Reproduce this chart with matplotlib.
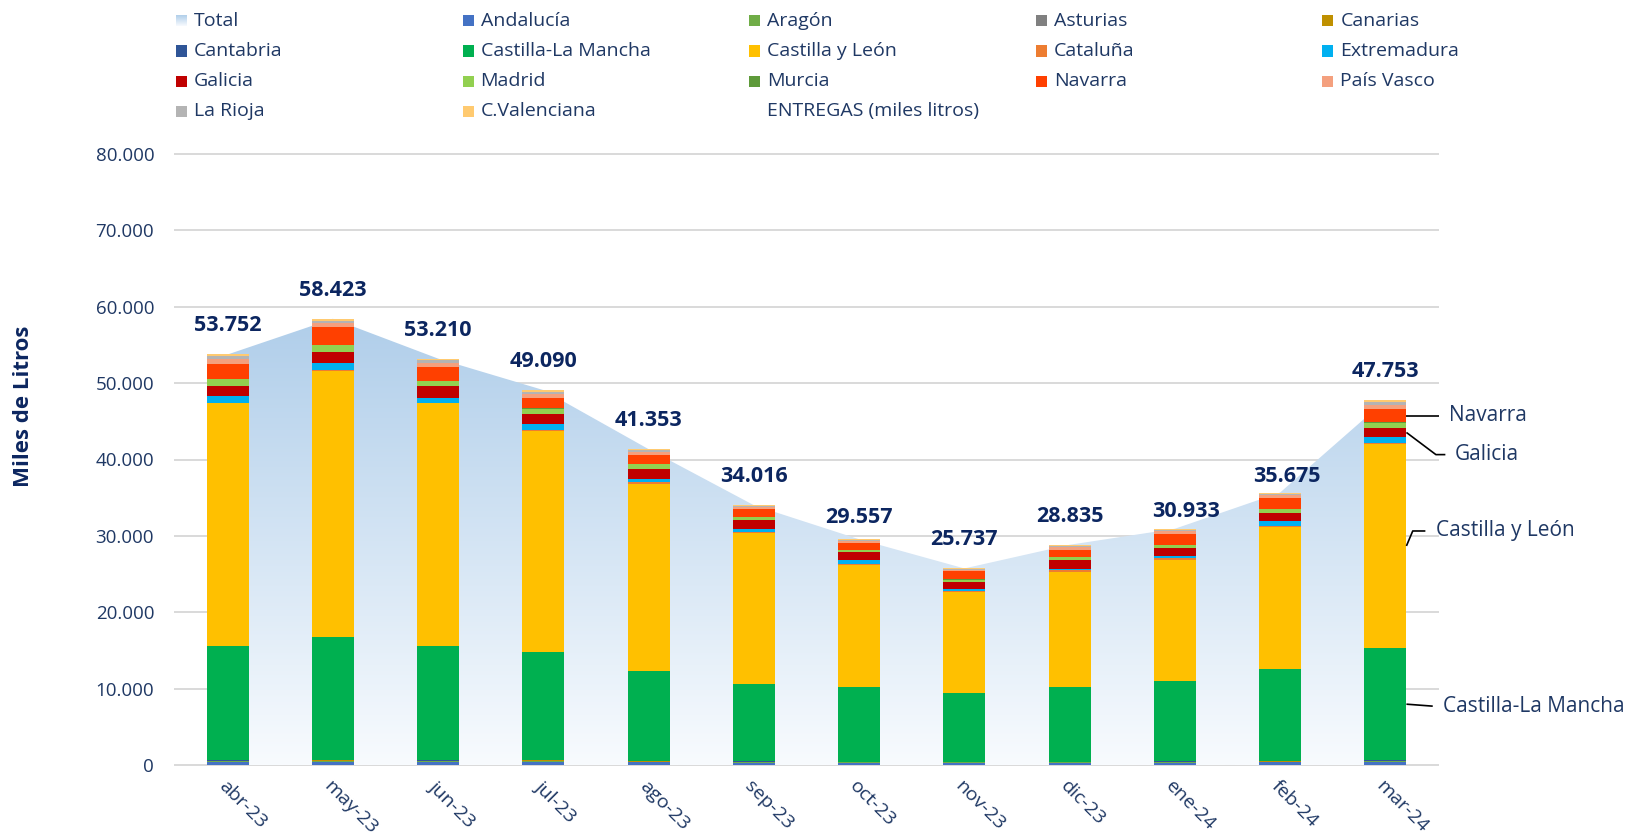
import numpy as np
import matplotlib
matplotlib.use("Agg")
import matplotlib.pyplot as plt
from matplotlib.patches import Rectangle, Polygon
from matplotlib.colors import to_rgb

plt.rcParams['font.family'] = ['Open Sans', 'DejaVu Sans']

months = ["abr-23", "may-23", "jun-23", "jul-23", "ago-23", "sep-23",
          "oct-23", "nov-23", "dic-23", "ene-24", "feb-24", "mar-24"]

total = [53752, 58423, 53210, 49090, 41353, 34016, 29557, 25737, 28835, 30933, 35675, 47753]

# deliveries per region (miles litros), stacked bottom to top
andalucia = [420, 430, 420, 400, 340, 310, 290, 270, 290, 310, 330, 400]
aragon = [90, 100, 90, 90, 80, 70, 60, 60, 60, 70, 80, 90]
asturias = [30, 30, 30, 30, 30, 30, 30, 30, 30, 30, 30, 30]
canarias = [40, 40, 40, 110, 40, 30, 30, 30, 30, 30, 30, 40]
cantabria = [60, 60, 60, 60, 50, 50, 40, 40, 40, 50, 50, 60]
castilla_la_mancha = [14950, 16150, 14950, 14060, 11770, 10180, 9800, 9020, 9800, 10560, 12030, 14690]
castilla_y_leon = [31760, 34820, 31800, 29000, 24540, 19680, 16000, 13200, 15000, 15800, 18600, 26740]
cataluna = [60, 60, 60, 150, 150, 100, 100, 150, 250, 250, 100, 100]
extremadura = [920, 960, 660, 790, 440, 500, 430, 260, 200, 200, 650, 780]
galicia = [1310, 1480, 1570, 1310, 1350, 1100, 1100, 850, 1080, 1090, 1100, 1220]
madrid = [900, 800, 600, 650, 600, 380, 220, 350, 430, 430, 470, 680]
murcia = [60, 70, 50, 90, 50, 70, 40, 50, 50, 50, 50, 60]
navarra = [1960, 2300, 1840, 1350, 1180, 1000, 960, 1050, 870, 1400, 1500, 1740]
pais_vasco = [600, 560, 520, 500, 370, 260, 230, 190, 350, 330, 330, 560]
la_rioja = [330, 320, 290, 280, 200, 140, 130, 100, 200, 190, 180, 320]
c_valenciana = [262, 243, 230, 220, 163, 116, 97, 87, 155, 143, 145, 243]

regions = ["Andalucía", "Aragón", "Asturias", "Canarias", "Cantabria",
           "Castilla-La Mancha", "Castilla y León", "Cataluña", "Extremadura",
           "Galicia", "Madrid", "Murcia", "Navarra", "País Vasco", "La Rioja",
           "C.Valenciana"]
series = [andalucia, aragon, asturias, canarias, cantabria, castilla_la_mancha,
          castilla_y_leon, cataluna, extremadura, galicia, madrid, murcia,
          navarra, pais_vasco, la_rioja, c_valenciana]
colors = ["#4472C4", "#70AD47", "#808080", "#BF9000", "#2F5597", "#00B050",
          "#FFC000", "#ED7D31", "#00B0F0", "#C00000", "#92D050", "#5E9A3A",
          "#FF4000", "#F4A07E", "#B4B4B4", "#FFCA70"]

navy = "#1F3864"
navy_bold = "#0C2660"

W, H = 1634, 835
fig = plt.figure(figsize=(W / 100, H / 100), dpi=100)
ax = fig.add_axes([175 / W, 70 / H, (1438 - 175) / W, (765 - 154) / H])

x = np.arange(len(months))

# gradient area for the total
top_c = np.array(to_rgb("#B0CEEA"))
bot_c = np.array(to_rgb("#F8FBFE"))
t = np.linspace(0, 1, 256).reshape(-1, 1, 1)
grad = top_c * (1 - t) + bot_c * t
area = Polygon([(0, 0)] + list(zip(x, total)) + [(x[-1], 0)], closed=True,
               facecolor="none", edgecolor="none")
ax.add_patch(area)
img = ax.imshow(grad, extent=(-0.5, 11.5, 0, max(total)), aspect="auto",
                origin="upper", zorder=1, interpolation="bilinear")
img.set_clip_path(area)

bottom = np.zeros(len(months))
for s, c in zip(series, colors):
    ax.bar(x, s, 0.4, bottom=bottom, color=c, zorder=3, linewidth=0)
    bottom += np.array(s)

ax.set_xlim(-0.5, 11.5)
ax.set_ylim(0, 80000)
yt = np.arange(0, 80001, 10000)
ax.set_yticks(yt)
ax.set_yticklabels([f"{v:,}".replace(",", ".") for v in yt], fontsize=13.5, color=navy)
ax.yaxis.grid(True, color="#D9D9D9", linewidth=1.4, zorder=0)
for gl in ax.get_ygridlines():
    gl.set_clip_on(False)
ax.set_axisbelow(True)
for sp in ax.spines.values():
    sp.set_visible(False)
ax.tick_params(axis="both", length=0)
ax.tick_params(axis="y", pad=15)
ax.set_xticks(x)
ax.set_xticklabels(months, fontsize=14, color=navy, rotation=-45, ha="left",
                   rotation_mode="anchor")
ax.tick_params(axis="x", pad=9)

ax.set_ylabel("Miles de Litros", fontsize=16, fontweight="bold", color=navy_bold)
ax.yaxis.set_label_coords(-0.112, 0.587)

# total labels (offsets in points)
label_dx = [0, 0, 0, 0, 0, 0, 0, 0, 0, 8, 5, 0]
label_dy = [20.5, 20.5, 20.5, 20.5, 20.5, 20.5, 16, 20.5, 20.5, 12.3, 11.8, 20.5]
for i, tv in enumerate(total):
    ax.annotate(f"{tv:,}".replace(",", "."), (i, tv), xytext=(label_dx[i], label_dy[i]),
                textcoords="offset points", ha="center", va="center",
                fontsize=15.5, fontweight="bold", color=navy_bold, zorder=5)

# callouts on the last bar
last = len(months) - 1
cum = np.cumsum([s[last] for s in series])
starts = np.concatenate([[0], cum[:-1]])


def callout(name, dy, x_elbow, x_end, x_text):
    k = regions.index(name)
    mid = (starts[k] + cum[k]) / 2
    ax.plot([last + 0.2, x_elbow, x_end], [mid, mid + dy, mid + dy],
            color="black", lw=1.2, zorder=6, clip_on=False, solid_capstyle="butt")
    ax.text(x_text, mid + dy, name, fontsize=15, color=navy, ha="left",
            va="center", clip_on=False)


callout("Navarra", 0, 11.51, 11.51, 11.60)
callout("Galicia", -2900, 11.48, 11.57, 11.66)
callout("Castilla y León", 1960, 11.26, 11.38, 11.48)
callout("Castilla-La Mancha", -260, 11.45, 11.45, 11.55)

# legend, laid out 5 per row
entries = ["Total"] + regions + ["ENTREGAS (miles litros)"]
ent_colors = [None] + colors + ["none"]
for i, (name, c) in enumerate(zip(entries, ent_colors)):
    row, col = divmod(i, 5)
    mx = 176 + 286.6 * col
    cy = 20.8 + 30.2 * row
    if name == "Total":
        lax = fig.add_axes([mx / W, 1 - (cy + 5.5) / H, 11 / W, 11 / H])
        lax.imshow(grad, aspect="auto")
        lax.axis("off")
    elif c != "none":
        fig.add_artist(Rectangle((mx / W, 1 - (cy + 5.5) / H), 11 / W, 11 / H,
                                 transform=fig.transFigure, facecolor=c, edgecolor="none"))
    fig.text((mx + 18) / W, 1 - cy / H, name, fontsize=14, color=navy,
             ha="left", va="center")

fig.savefig("out.png", dpi=100)
